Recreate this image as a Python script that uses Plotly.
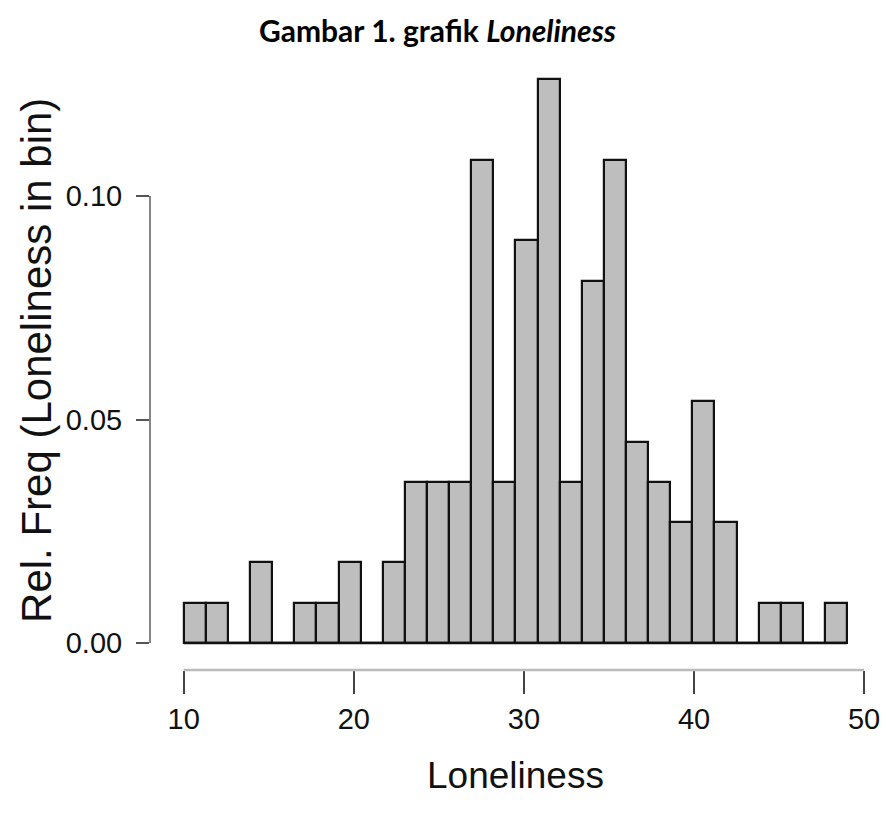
import plotly.graph_objects as go

# Histogram data (30 bins from 10 to 49, width 1.3)
bin_start = 10.0
bin_width = 1.3
counts = [1, 1, 0, 2, 0, 1, 1, 2, 0, 2,
          4, 4, 4, 12, 4, 10, 14, 4, 9, 12,
          5, 4, 3, 6, 3, 0, 1, 1, 0, 1]
n_total = sum(counts)
rel_freq = [c / n_total for c in counts]
centers = [bin_start + bin_width * (i + 0.5) for i in range(len(counts))]
edges = [bin_start, bin_start + bin_width * len(counts)]

x_ticks = [10, 20, 30, 40, 50]
y_ticks = [0.0, 0.05, 0.10]
y_ticktext = ["0.00", "0.05", "0.10"]

title_text = "Gambar 1. grafik <i>Loneliness</i>"
x_title = "Loneliness"
y_title = "Rel. Freq (Loneliness in bin)"

fig = go.Figure()
fig.add_trace(go.Scatter(x=edges, y=[0, 0], mode="lines",
                         line=dict(color="#111111", width=2.5),
                         hoverinfo="skip", showlegend=False))
fig.add_trace(go.Bar(x=centers, y=rel_freq, width=bin_width,
                     marker=dict(color="#BEBEBE", line=dict(color="#111111", width=2.2)),
                     showlegend=False))

axis_font = dict(family="Liberation Sans, Arial, sans-serif", size=29, color="#111111")

# page body has an 8px margin; plot area spans x 150..880, y 60..670 in page pixels
fig.update_layout(
    width=881, height=807,
    margin=dict(l=142, r=9, t=52, b=145),
    paper_bgcolor="white", plot_bgcolor="white",
    bargap=0,
    xaxis=dict(range=[8.017, 50.583], tickvals=x_ticks, ticks="outside", ticklen=23,
               tickwidth=1.5, tickcolor="#444444", showgrid=False, zeroline=False,
               showline=False, tickfont=axis_font),
    yaxis=dict(range=[-0.00604, 0.13043], tickvals=y_ticks, ticktext=y_ticktext,
               ticks="outside", ticklen=13, tickwidth=1.5, tickcolor="#555555",
               showgrid=False, zeroline=False, showline=False, tickfont=axis_font,
               ticklabelstandoff=8),
    shapes=[
        dict(type="line", xref="x", yref="paper", x0=x_ticks[0], x1=x_ticks[-1], y0=0, y1=0,
             line=dict(color="#BBBBBB", width=2.5)),
        dict(type="line", xref="paper", yref="y", x0=0, x1=0, y0=y_ticks[0], y1=y_ticks[-1],
             line=dict(color="#333333", width=1.2)),
    ],
    annotations=[
        dict(text=title_text, xref="paper", yref="paper", x=(440 - 150) / 730, y=(670 - 30) / 610,
             xanchor="center", yanchor="middle", showarrow=False,
             font=dict(family="Lato, sans-serif", size=30, color="#000000", weight="bold")),
        dict(text=x_title, xref="paper", yref="paper", x=(519 - 150) / 730, y=(670 - 775) / 610,
             xanchor="center", yanchor="middle", showarrow=False,
             font=dict(family="Liberation Sans, Arial, sans-serif", size=37, color="#111111")),
        dict(text=y_title, xref="paper", yref="paper", x=(35 - 150) / 730, y=(670 - 360) / 610,
             xanchor="center", yanchor="middle", showarrow=False, textangle=-90,
             font=dict(family="Liberation Sans, Arial, sans-serif", size=42, color="#111111")),
    ],
)

fig.write_html("out.html")
